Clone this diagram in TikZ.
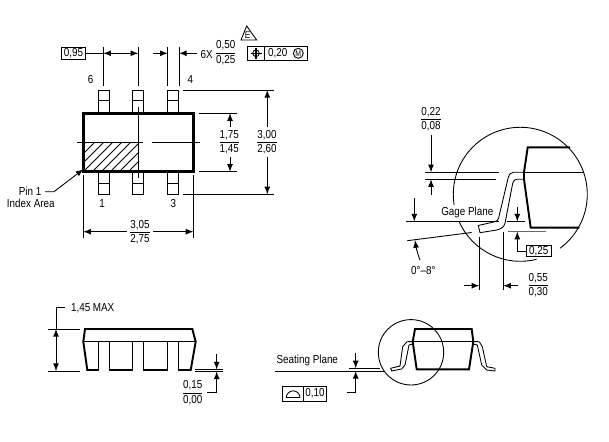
\documentclass[tikz,border=0pt]{standalone}
\usepackage{fontspec}
\setmainfont[FakeStretch=0.85]{Liberation Sans}
\usepackage{tikz}
\tikzstyle{outl}=[line width=1.4pt]
\tikzstyle{thin1}=[line width=0.5pt]
\tikzstyle{dim}=[line width=0.5pt,>=latex]
\tikzstyle{txt}=[inner sep=0pt,align=center,font=\fontsize{6.6}{8}\selectfont]
\tikzstyle{boxed}=[draw,line width=0.5pt,inner sep=0pt,font=\fontsize{6.6}{8}\selectfont]
\newcommand{\tol}[2]{\underline{#1}\\#2}
\begin{document}
\begin{tikzpicture}[x=0.02cm,y=-0.02cm,>=latex]
\useasboundingbox (0,0) rectangle (609,442);

% top view
\begin{scope}
\clip (83.3,142.3) rectangle (138.3,171.7);
\foreach \xx in {-36,-27,...,54} {
  \draw[thin1] (\xx+83,172) -- (\xx+113,142);
}
\end{scope}
\foreach \xx in {98.3,132.7,167.7} {
  \draw[thin1] (\xx,113.3) -- (\xx,90) -- (\xx+11,90) -- (\xx+11,113.3);
  \draw[thin1] (\xx,100.7) -- (\xx+11,100.7);
  \draw[thin1] (\xx,171.7) -- (\xx,194.3) -- (\xx+11,194.3) -- (\xx+11,171.7);
  \draw[thin1] (\xx,183.3) -- (\xx+11,183.3);
}
\draw[outl] (83.3,113.3) rectangle (193.3,171.7);
\draw[thin1] (76.7,142.3) -- (143,142.3);
\draw[thin1] (151.7,142.3) -- (200,142.3);
\draw[thin1] (138.3,106.7) -- (138.3,178);

% pitch and lead width
\node[boxed,minimum width=23.6*0.02cm,minimum height=12*0.02cm] at (73.5,53.3) (pitch) {0,95};
\draw[thin1] (103.3,46.7) -- (103.3,86);
\draw[thin1] (138.3,46.7) -- (138.3,86);
\draw[thin1] (167.7,46.7) -- (167.7,86);
\draw[thin1] (179,46.7) -- (179,86);
\draw[dim] (pitch) -- (103.3,53.3);
\draw[dim,<->] (103.3,53.3) -- (138.3,53.3);
\draw[dim,->] (152.7,53.3) -- (167.7,53.3);
\draw[dim,->] (196.7,53.3) -- (179,53.3);
\node[txt] at (206.7,55) (sixx) {6X};
\node[txt] at (225.7,52.7) (leadw) {\tol{0,50}{0,25}};
\draw[thin1] (241,40) -- (246.7,26) -- (256.7,40) -- cycle;
\node[txt,font=\fontsize{5.5}{6}\selectfont] at (247.7,35.5) (flag) {E};
\draw[thin1] (247.7,46) rectangle (307.7,60.7);
\draw[thin1] (264.3,46) -- (264.3,60.7);
\draw[thin1] (256,53.3) circle (3.3);
\draw[line width=0.7pt] (256,47.7) -- (256,59);
\draw[line width=0.7pt] (250.5,53.3) -- (261.5,53.3);
\node[txt] at (277.7,53.5) (posn) {0,20};
\draw[thin1] (298.3,53.3) circle (5);
\node[txt,font=\fontsize{4.6}{5}\selectfont] at (298.3,53.3) (mmc) {M};

\node[txt] at (90.7,80) (p6) {6};
\node[txt] at (190.3,80) (p4) {4};
\node[txt] at (102,204) (p1) {1};
\node[txt] at (173.3,204) (p3) {3};

% body width
\draw[thin1] (199,113.3) -- (237.3,113.3);
\draw[thin1] (199,171.7) -- (237.3,171.7);
\node[txt] at (229.3,142.3) (bodyw) {\tol{1,75}{1,45}};
\draw[dim,->] (230,126.7) -- (230,113.3);
\draw[dim,->] (230,156.7) -- (230,171.7);
% total width
\draw[thin1] (183.3,90) -- (274,90);
\draw[thin1] (183.3,194.3) -- (274,194.3);
\node[txt] at (267,142.3) (totw) {\tol{3,00}{2,60}};
\draw[dim,->] (267.3,126.7) -- (267.3,90);
\draw[dim,->] (267.3,156.7) -- (267.3,194.3);
% length
\draw[thin1] (83.3,175) -- (83.3,238);
\draw[thin1] (193.3,175) -- (193.3,238);
\node[txt] at (140,232) (bodyl) {\tol{3,05}{2,75}};
\draw[dim,->] (126.7,231.7) -- (83.3,231.7);
\draw[dim,->] (153.3,231.7) -- (193.3,231.7);
% index
\node[txt,anchor=east] at (41.7,191.5) (pin1) {Pin 1};
\node[txt,anchor=east] at (55,203) (idx) {Index Area};
\coordinate (idxend) at (83.3,169.3);
\draw[dim,->] (45,191.7) -- (54,191.7) -- (idxend);

% detail
\coordinate (det) at (520.3,194.3);
\draw[thin1] (det)+(76:67) arc[start angle=76,end angle=155.6,radius=67];
\draw[thin1] (det)+(171:67) arc[start angle=171,end angle=413.7,radius=67];
\draw[outl,line width=1.1pt] (570,147.3) -- (527.7,147.3) -- (524,172.3) -- (524,179.3) -- (530.7,227.7) -- (579.3,227.7);
\draw[thin1] (524,172.3) -- (584,172.3);
\draw[thin1] (524,172.3) -- (513.3,172.3) .. controls (510,172.3) and (509,175) .. (508.3,177.3)
  -- (498.5,218.5) .. controls (498,220.5) and (496,221.5) .. (494,221.9) -- (478.3,225.5) -- (480,232.7)
  -- (496.7,230) .. controls (501,229) and (504,227) .. (505,223.3) -- (512.7,183.3)
  .. controls (513.3,180.5) and (515,179.3) .. (516.7,179.3) -- (524,179.3);
\draw[thin1] (425.3,172.3) -- (499.3,172.3);
\draw[thin1] (425.3,179.3) -- (496,179.3);
\node[txt] at (431,119.3) (lth) {\tol{0,22}{0,08}};
\draw[dim,->] (431,135) -- (431,172.3);
\draw[dim,->] (431,195) -- (431,179.3);
\node[txt] at (467.3,212.7) (gage) {Gage Plane};
\draw[thin1] (406,221.5) -- (499,221.5);
\draw[thin1] (506.7,221.5) -- (525,221.5);
\draw[line width=0.8pt,black!60] (507.7,231.7) -- (546,231.7);
\draw[thin1] (407.3,240.7) -- (471.7,232.5);
\draw[dim,->] (414.3,198.3) -- (414.3,221.5);
\draw[dim,->] (420,260) .. controls (417,252) and (416,247) .. (415,240.2);
\node[txt] at (423.3,271) (ang) {0°–8°};
\draw[dim,->] (517.3,206.7) -- (517.3,221.5);
\node[boxed,minimum width=24.3*0.02cm,minimum height=11*0.02cm] at (538.8,251) (gap) {0,25};
\draw[dim,->] (gap.west) -- (517.3,251) -- (517.3,231.7);
\draw[thin1] (479.3,236.7) -- (479.3,290);
\draw[thin1] (503.3,231.7) -- (503.3,290);
\draw[dim,->] (464,285.7) -- (479.3,285.7);
\draw[dim,->] (518.3,285.7) -- (503.3,285.7);
\node[txt] at (538.3,285) (foot) {\tol{0,55}{0,30}};

% side view
\draw[outl,line width=1.1pt] (85,329) -- (83.3,341.7) -- (87.3,370) -- (190.7,370) -- (195.7,341.7) -- (192.3,329) -- cycle;
\draw[outl,line width=0.9pt] (83.3,341.7) -- (195.7,341.7);
\foreach \xx in {98.3,132.7,167.7} {
  \fill[white] (\xx,342.2) rectangle (\xx+11,372);
  \draw[thin1] (\xx,341.7) -- (\xx,371);
  \draw[thin1] (\xx+11,341.7) -- (\xx+11,371);
}
\draw[thin1] (48.3,329) -- (80,329);
\draw[thin1] (48.3,371) -- (80,371);
\draw[dim,<->] (56,329) -- (56,371);
\draw[thin1] (56,329) -- (56,307.3) -- (65,307.3);
\node[txt,anchor=west] at (70.7,308) (hmax) {1,45 MAX};
\draw[thin1] (195,369.5) -- (222.7,369.5);
\draw[thin1] (195,371.5) -- (222.7,371.5);
\draw[dim,->] (216.7,354) -- (216.7,369.5);
\draw[dim,->] (216.7,392.7) -- (216.7,371.5);
\draw[thin1] (216.7,392.7) -- (207.3,392.7);
\node[txt] at (192.7,392.7) (stand) {\tol{0,15}{0,00}};

% seating view
\draw[outl,line width=1.1pt] (415,329) -- (471.7,329) -- (473.3,341.7) -- (469,369.3) -- (416.7,369.3) -- (412.7,341.7) -- cycle;
\draw[thin1] (408.3,341.7) -- (478.3,341.7);
\draw[thin1] (412.7,341.7) -- (407,341.7) -- (402.7,346.7) -- (400,366) -- (390.7,368.3) -- (391.7,371)
  -- (401.7,369) -- (405,365) -- (409,345) -- (412.7,344);
\draw[thin1] (473.3,341.7) -- (479.3,341.7) -- (482.3,346.7) -- (486.7,366.7) -- (495,368.3) -- (495,371)
  -- (486.7,370) -- (481.7,365) -- (477.3,345) -- (473.3,344);
\draw[thin1] (411,352.3) circle (32.7);
\draw[thin1] (275,371) -- (384,371);
\draw[thin1] (349,368.3) -- (380,368.3);
\node[txt] at (307.3,360.7) (seat) {Seating Plane};
\draw[dim,->] (355.7,353.3) -- (355.7,368.3);
\draw[dim,->] (355.7,392.7) -- (355.7,371);
\draw[thin1] (355.7,392.7) -- (346.7,392.7);
\draw[thin1] (282.3,386) rectangle (326,401);
\draw[thin1] (303.3,386) -- (303.3,401);
\draw[thin1] (286.3,397.7) -- (300,397.7);
\draw[thin1] (286.3,397.7) arc[start angle=180,end angle=360,radius=6.85];
\node[txt] at (315,393.3) (copl) {0,10};
\end{tikzpicture}
\end{document}
